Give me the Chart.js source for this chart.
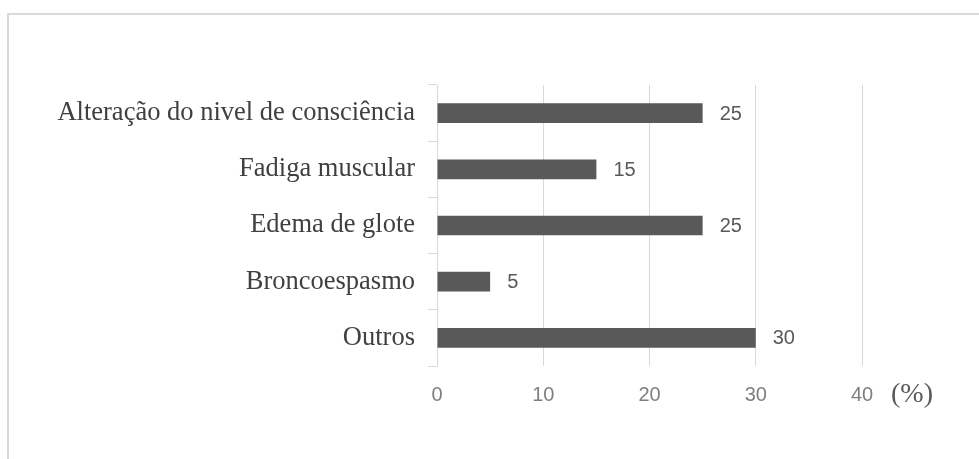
<!DOCTYPE html>
<html lang="pt">
<head>
<meta charset="UTF-8">
<title>Causas</title>
<script src="https://cdn.jsdelivr.net/npm/chart.js"></script>
<style>
  html, body { margin: 0; padding: 0; background: #fff; }
  #wrap { position: relative; width: 979px; height: 459px; overflow: hidden; }
  #frame {
    position: absolute; left: 7px; top: 13px; right: -10px; bottom: -10px;
    border-top: 2px solid #d9d9d9; border-left: 2px solid #d9d9d9;
  }
  #chart { position: absolute; left: 0; top: 0; }
</style>
</head>
<body>
<div id="wrap">
  <div id="frame"></div>
  <canvas id="chart" width="979" height="459"></canvas>
</div>

<script>
  const categories = [
    'Alteração do nivel de consciência',
    'Fadiga muscular',
    'Edema de glote',
    'Broncoespasmo',
    'Outros'
  ];
  const percentages = [25, 15, 25, 5, 30];
  const axisTicks = [0, 10, 20, 30, 40];
  const unitLabel = '(%)';

  const gridColor = '#d9d9d9';
  const sansFont = '"Liberation Sans", Arial, sans-serif';
  const serifFont = '"Liberation Serif", "Times New Roman", serif';

  // value next to each bar, plus the unit after the last x tick
  const barLabels = {
    id: 'barLabels',
    afterDatasetsDraw(chart) {
      const ctx = chart.ctx;
      const meta = chart.getDatasetMeta(0);
      ctx.save();
      ctx.font = '20px ' + sansFont;
      ctx.fillStyle = '#595959';
      ctx.textAlign = 'left';
      ctx.textBaseline = 'middle';
      meta.data.forEach((bar, i) => {
        ctx.fillText(String(percentages[i]), bar.x + 17, bar.y + 1);
      });

      const x = chart.scales.x;
      ctx.font = '28px ' + serifFont;
      ctx.fillStyle = '#595959';
      ctx.fillText(unitLabel, x.right + 29, 395);
      ctx.restore();
    }
  };

  new Chart(document.getElementById('chart'), {
    type: 'bar',
    data: {
      labels: categories,
      datasets: [{
        data: percentages,
        backgroundColor: '#595959',
        borderWidth: 0,
        barPercentage: 0.35,
        categoryPercentage: 1.0
      }]
    },
    options: {
      indexAxis: 'y',
      responsive: false,
      animation: false,
      layout: { padding: { left: 0, top: 85, right: 117, bottom: 0 } },
      plugins: {
        legend: { display: false },
        tooltip: { enabled: false }
      },
      scales: {
        x: {
          min: 0,
          max: 40,
          afterBuildTicks: scale => {
            scale.ticks = axisTicks.map(v => ({ value: v }));
          },
          afterFit: scale => { scale.height = 93; },
          grid: { color: gridColor, lineWidth: 1, drawTicks: false },
          border: { display: false },
          ticks: {
            color: '#7f7f7f',
            font: { family: sansFont, size: 20 },
            padding: 17
          }
        },
        y: {
          afterFit: scale => { scale.width = 437; },
          grid: {
            color: gridColor,
            drawOnChartArea: false,
            drawTicks: true,
            tickLength: 9,
            offset: true
          },
          border: { display: true, color: gridColor, width: 1 },
          ticks: {
            color: '#404040',
            font: { family: serifFont, size: 26.5 },
            padding: 13
          }
        }
      }
    },
    plugins: [barLabels]
  });
</script>
</body>
</html>
